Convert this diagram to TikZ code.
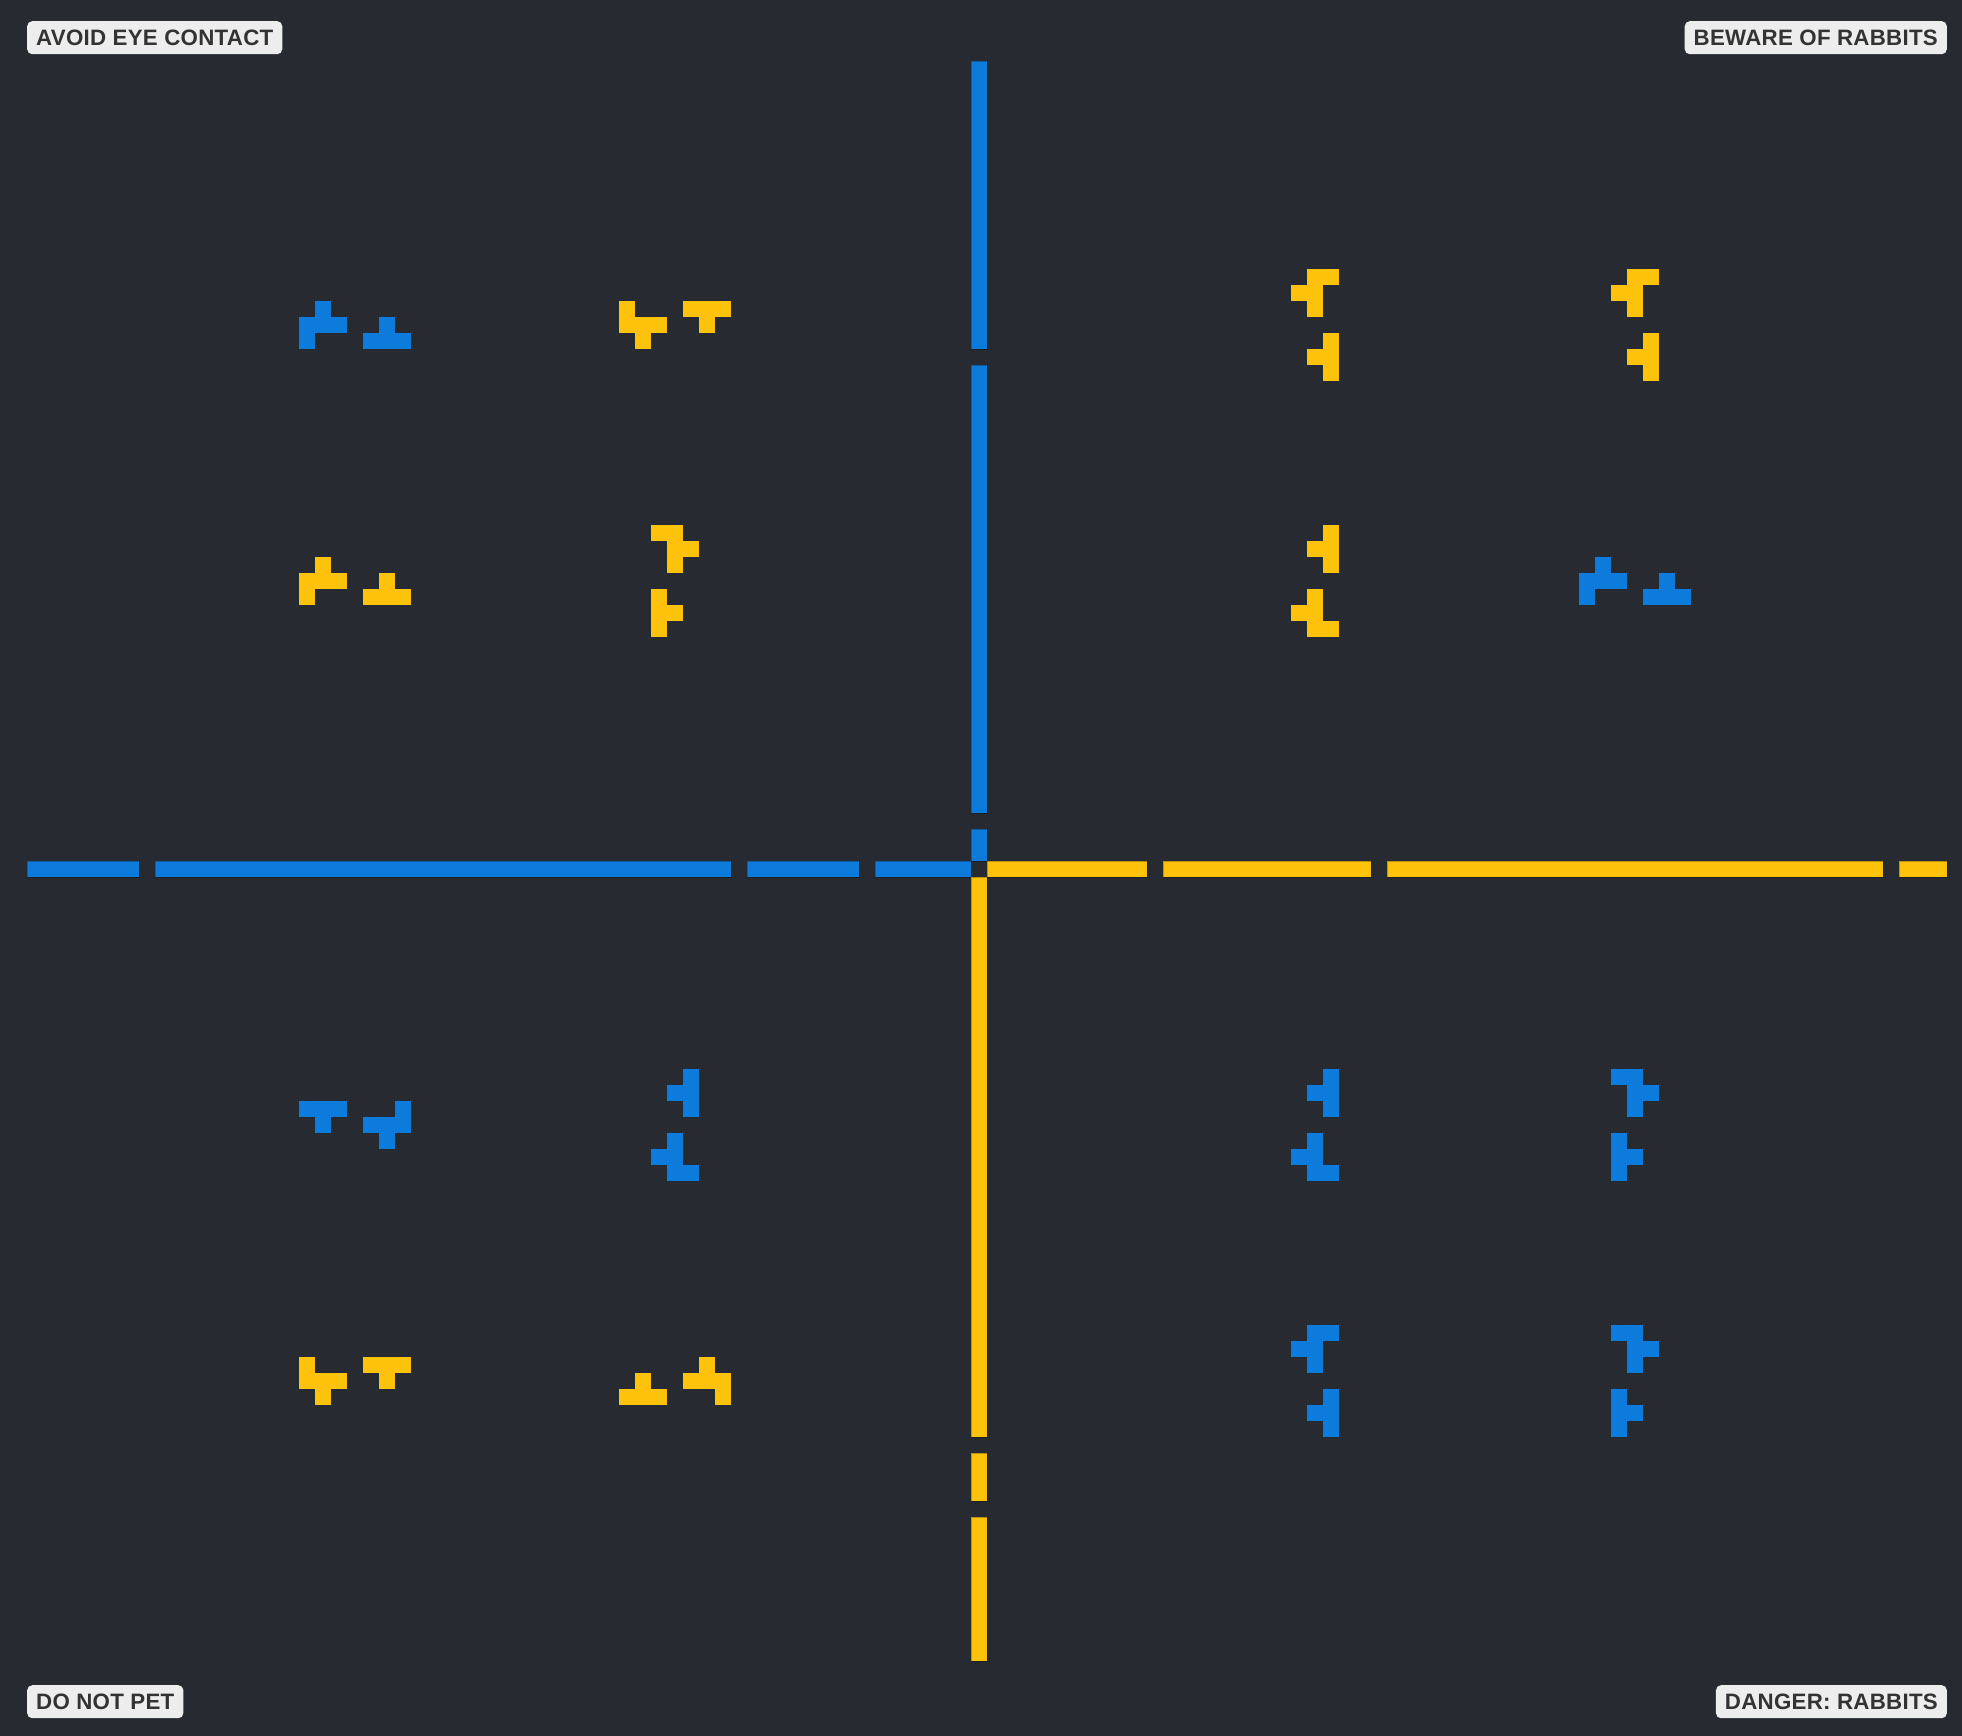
\documentclass[tikz,border=0pt]{standalone}
\usepackage{fontspec}
\setmainfont{Liberation Sans}
\newfontfamily\labfont[LetterSpace=1.2]{Liberation Sans}
\definecolor{bgc}{HTML}{272A30}
\definecolor{bluec}{HTML}{0C7BDC}
\definecolor{yelc}{HTML}{FFC20A}
\definecolor{labfill}{HTML}{EDEDED}
\definecolor{labtext}{HTML}{333333}
\newcommand\rglyph[4]{\foreach \dx/\dy in #4 {\fill[#1] ({11+16*(#2+\dx)},{13+16*(#3+\dy)}) rectangle ++(16,16);}}
\newcommand\rhseg[3]{\fill[#1,segline] ({11+16*(#2)},{13+16*53}) rectangle ({11+16*(#3+1)},{13+16*54});}
\newcommand\rvseg[3]{\fill[#1,segline] ({11+16*60},{13+16*(#2)}) rectangle ({11+16*61},{13+16*(#3+1)});}
\def\shA{1/0,0/1,1/1,2/1,0/2}
\def\shB{1/1,0/2,1/2,2/2}
\def\shC{0/0,0/1,1/1,2/1,1/2}
\def\shD{0/0,1/0,2/0,1/1}
\def\shG{0/0,1/0,1/1,2/1,1/2}
\def\shH{0/0,0/1,1/1,0/2}
\def\shI{1/0,2/0,0/1,1/1,1/2}
\def\shJ{2/0,1/1,2/1,2/2}
\def\shN{1/0,0/1,1/1,1/2,2/2}
\def\shR{2/0,0/1,1/1,2/1,1/2}
\def\shX{1/0,0/1,1/1,2/1,2/2}
\begin{document}
\begin{tikzpicture}[x=1pt,y=-1pt,
  segline/.style={draw=black,draw opacity=0.25,line width=0.8pt},
  label/.style={fill=labfill,text=labtext,rounded corners=5pt,inner xsep=9pt,inner ysep=8.5pt,
    text height=16pt,text depth=0pt,font=\labfont\bfseries\fontsize{22.3}{24}\selectfont}]
\fill[bgc] (0,0) rectangle (1962,1736);
\useasboundingbox (0,0) rectangle (1962,1736);
% horizontal axis
\rhseg{bluec}{1}{7}
\rhseg{bluec}{9}{44}
\rhseg{bluec}{46}{52}
\rhseg{bluec}{54}{59}
\rhseg{yelc}{61}{70}
\rhseg{yelc}{72}{84}
\rhseg{yelc}{86}{116}
\rhseg{yelc}{118}{120}
% vertical axis
\rvseg{bluec}{3}{20}
\rvseg{bluec}{22}{49}
\rvseg{bluec}{51}{52}
\rvseg{yelc}{54}{88}
\rvseg{yelc}{90}{92}
\rvseg{yelc}{94}{102}
% top-left
\rglyph{bluec}{18}{18}{\shA}
\rglyph{bluec}{22}{18}{\shB}
\rglyph{yelc}{38}{18}{\shC}
\rglyph{yelc}{42}{18}{\shD}
\rglyph{yelc}{18}{34}{\shA}
\rglyph{yelc}{22}{34}{\shB}
\rglyph{yelc}{40}{32}{\shG}
\rglyph{yelc}{40}{36}{\shH}
% top-right
\rglyph{yelc}{80}{16}{\shI}
\rglyph{yelc}{80}{20}{\shJ}
\rglyph{yelc}{100}{16}{\shI}
\rglyph{yelc}{100}{20}{\shJ}
\rglyph{yelc}{80}{32}{\shJ}
\rglyph{yelc}{80}{36}{\shN}
\rglyph{bluec}{98}{34}{\shA}
\rglyph{bluec}{102}{34}{\shB}
% bottom-left
\rglyph{bluec}{18}{68}{\shD}
\rglyph{bluec}{22}{68}{\shR}
\rglyph{bluec}{40}{66}{\shJ}
\rglyph{bluec}{40}{70}{\shN}
\rglyph{yelc}{18}{84}{\shC}
\rglyph{yelc}{22}{84}{\shD}
\rglyph{yelc}{38}{84}{\shB}
\rglyph{yelc}{42}{84}{\shX}
% bottom-right
\rglyph{bluec}{80}{66}{\shJ}
\rglyph{bluec}{80}{70}{\shN}
\rglyph{bluec}{100}{66}{\shG}
\rglyph{bluec}{100}{70}{\shH}
\rglyph{bluec}{80}{82}{\shI}
\rglyph{bluec}{80}{86}{\shJ}
\rglyph{bluec}{100}{82}{\shG}
\rglyph{bluec}{100}{86}{\shH}
% labels
\node[label,anchor=north west] (tl) at (27,21) {AVOID EYE CONTACT};
\node[label,anchor=north east] (tr) at (1947,21) {BEWARE OF RABBITS};
\node[label,anchor=north west] (bl) at (27,1685) {DO NOT PET};
\node[label,anchor=north east] (br) at (1947,1685) {DANGER: RABBITS};
\end{tikzpicture}
\end{document}
